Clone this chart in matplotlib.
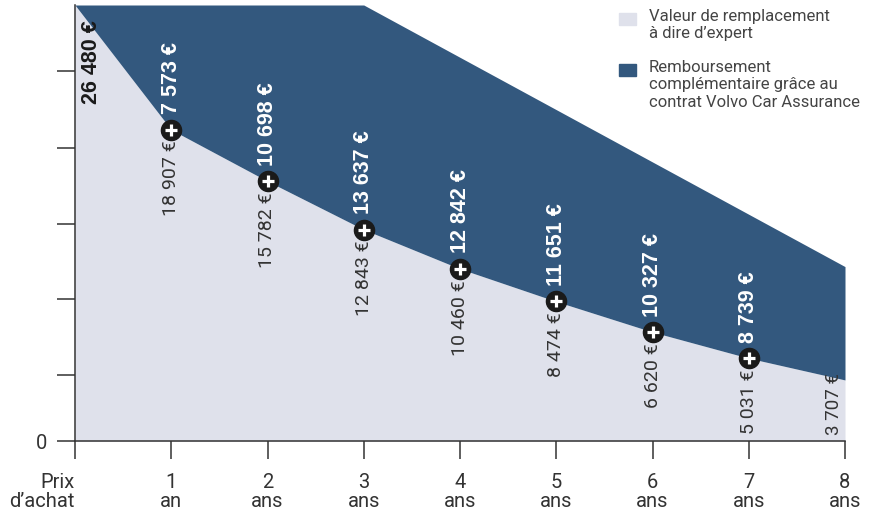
import matplotlib
matplotlib.use("Agg")
import matplotlib.pyplot as plt
from matplotlib.patches import Rectangle

# data
years = [0, 1, 2, 3, 4, 5, 6, 7, 8]
tick_labels = ["Prix\nd’achat", "1\nan", "2\nans", "3\nans", "4\nans",
               "5\nans", "6\nans", "7\nans", "8\nans"]
expert_value = [26480, 18907, 15782, 12843, 10460, 8474, 6620, 5031, 3707]
extra_refund = [0, 7573, 10698, 13637, 12842, 11651, 10327, 8739, 6886]
y_ticks = [0, 4000, 8600, 13200, 17800, 22500]

total = [e + r for e, r in zip(expert_value, extra_refund)]

light = "#dfe1eb"
dark = "#33587e"
txt = "#333333"
bold_font = ["Liberation Sans", "DejaVu Sans"]

plt.rcParams["font.family"] = ["Roboto", "DejaVu Sans"]


def fmt(v):
    return f"{v:,}".replace(",", " ") + " €"


fig = plt.figure(figsize=(8.73, 5.11), dpi=100)
ax = fig.add_axes([75 / 873, 1 - 441 / 511, (845 - 75) / 873, (441 - 5) / 511])

ax.fill_between(years, 0, expert_value, color=light, lw=0)
ax.fill_between(years, expert_value, total, color=dark, lw=0)
ax.set_xlim(0, 8)
ax.set_ylim(0, 26480)

# markers with plus sign
ax.plot(years[1:8], expert_value[1:8], "o", ms=14.5, color="#1a1a1a", zorder=5, clip_on=False)
ax.plot(years[1:8], expert_value[1:8], "+", ms=9, mew=2.3, color="white", zorder=6, clip_on=False)

for i in range(1, 8):
    ax.annotate(fmt(expert_value[i]), (years[i], expert_value[i]), xytext=(0, -8),
                textcoords="offset points", rotation=90, ha="center", va="top",
                fontsize=14, color=txt)
    ax.annotate(fmt(extra_refund[i]), (years[i], expert_value[i]), xytext=(0, 11),
                textcoords="offset points", rotation=90, ha="center", va="bottom",
                fontsize=15.5, color="white", weight="bold", family=bold_font)

ax.annotate(fmt(expert_value[0]), (0, expert_value[0]), xytext=(12, -11),
            textcoords="offset points", rotation=90, ha="center", va="top",
            fontsize=15.5, color="#1a1a1a", weight="bold", family=bold_font)
# last value sits just above the axis
ax.annotate(fmt(expert_value[8]), (8, 0), xytext=(-8, 4),
            textcoords="offset points", rotation=90, ha="center", va="bottom",
            fontsize=13.5, color=txt)

# axes styling
for s in ["top", "right"]:
    ax.spines[s].set_visible(False)
for s in ["left", "bottom"]:
    ax.spines[s].set_color(txt)
    ax.spines[s].set_linewidth(1.1)

ax.set_xticks(years, tick_labels)
ax.set_yticks(y_ticks, ["0"] + [""] * (len(y_ticks) - 1))
ax.tick_params(axis="x", length=13, width=1.1, color=txt, pad=10, labelsize=14.5, labelcolor=txt)
ax.tick_params(axis="y", length=13, width=1.1, color=txt, pad=7, labelsize=14.5, labelcolor=txt)
for t in ax.get_xticklabels():
    t.set_linespacing(1.0)
xl = ax.get_xticklabels()
xl[0].set_ha("right")
xl[0].set_multialignment("right")

# legend drawn by hand
fig.add_artist(Rectangle((619 / 873, 1 - 25 / 511), 17 / 873, 12 / 511,
                         transform=fig.transFigure, color=light))
fig.add_artist(Rectangle((619 / 873, 1 - 76 / 511), 17 / 873, 12 / 511,
                         transform=fig.transFigure, color=dark))
fig.text(649 / 873, 1 - 9 / 511, "Valeur de remplacement\nà dire d’expert",
         ha="left", va="top", fontsize=12, color="#444444", linespacing=1.2)
fig.text(649 / 873, 1 - 60 / 511,
         "Remboursement\ncomplémentaire grâce au\ncontrat Volvo Car Assurance",
         ha="left", va="top", fontsize=12, color="#444444", linespacing=1.2)

fig.savefig("out.png", dpi=100)
